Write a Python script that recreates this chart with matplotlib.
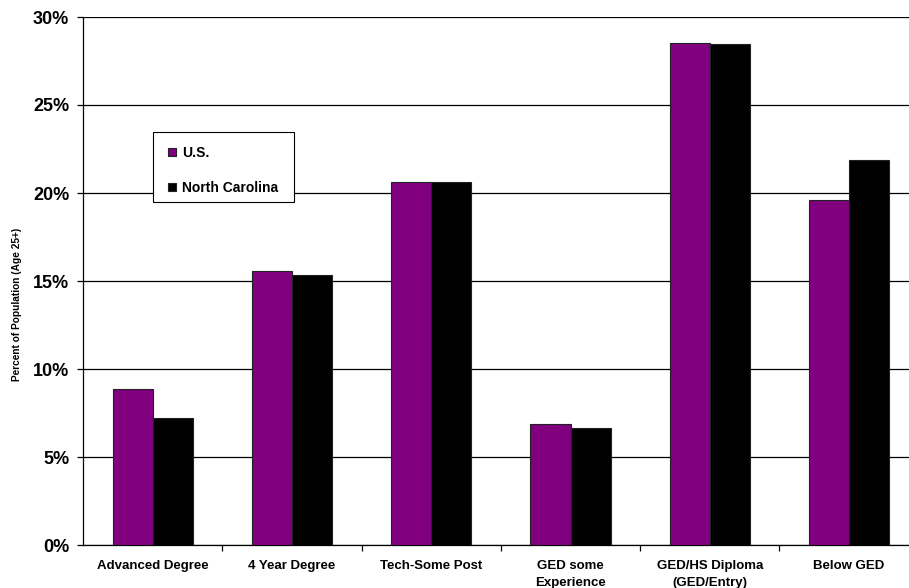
import numpy as np
import matplotlib
matplotlib.use("Agg")
import matplotlib.pyplot as plt
from matplotlib.patches import Rectangle
from matplotlib.ticker import FuncFormatter, MultipleLocator, FixedLocator

categories = ["Advanced Degree", "4 Year Degree", "Tech-Some Post",
              "GED some\nExperience", "GED/HS Diploma\n(GED/Entry)", "Below GED"]
us = [8.85, 15.55, 20.65, 6.85, 28.5, 19.6]
nc = [7.2, 15.33, 20.65, 6.62, 28.45, 21.85]

plt.rcParams['font.family'] = ['Liberation Sans', 'DejaVu Sans']
plt.rcParams['font.weight'] = 'bold'

W, H = 909, 588
fig = plt.figure(figsize=(W / 100, H / 100), dpi=100)
ax = fig.add_axes([83.2 / W, 43 / H, 835.4 / W, 528 / H])

x = np.arange(len(categories))
w = 0.2875
ax.bar(x - w / 2, us, w, color="#800080", edgecolor="#222222", linewidth=0.8,
       label="U.S.", zorder=3)
ax.bar(x + w / 2, nc, w, color="black", edgecolor="#222222", linewidth=0.8,
       label="North Carolina", zorder=3)

ax.set_xlim(-0.5, len(categories) - 0.5)
ax.set_ylim(0, 30)
ax.yaxis.set_major_locator(MultipleLocator(5))
ax.yaxis.set_major_formatter(FuncFormatter(lambda v, p: f"{v:.0f}%"))
ax.grid(axis="y", color="black", linewidth=0.9, zorder=0)
ax.set_axisbelow(True)

ax.set_xticks(x)
ax.set_xticklabels(categories, fontsize=9.5, fontweight="bold", linespacing=1.5)
ax.xaxis.set_minor_locator(FixedLocator(np.arange(0.5, len(categories) - 0.5, 1)))
ax.tick_params(axis="x", which="major", length=0, pad=11)
ax.tick_params(axis="x", which="minor", length=4, width=0.9, direction="out")
ax.tick_params(axis="y", length=4, width=0.9, pad=6, labelsize=13)
for lab in ax.get_yticklabels():
    lab.set_fontweight("bold")

for s in ["top", "right"]:
    ax.spines[s].set_visible(False)
ax.spines["left"].set_linewidth(0.9)
ax.spines["bottom"].set_linewidth(0.9)

ax.set_ylabel("Percent of Population (Age 25+)", fontsize=7.3, fontweight="bold")
ax.yaxis.set_label_coords(-0.073, 0.456)

# legend box drawn by hand so its size matches
box = Rectangle((152.7 / W, 1 - 201.7 / H), 141.6 / W, 69.4 / H,
                transform=fig.transFigure, facecolor="white",
                edgecolor="black", linewidth=0.8, zorder=4, clip_on=False)
ax.add_patch(box)
leg = ax.legend(loc="upper left", bbox_to_anchor=(168 / W, 1 - 146 / H),
                bbox_transform=fig.transFigure, frameon=False,
                fontsize=10, handlelength=0.55, handleheight=0.55,
                handletextpad=0.45, labelspacing=1.5, borderpad=0, borderaxespad=0)
leg.set_zorder(5)
for t in leg.get_texts():
    t.set_fontweight("bold")

fig.savefig("out.png", dpi=100, facecolor="white")
